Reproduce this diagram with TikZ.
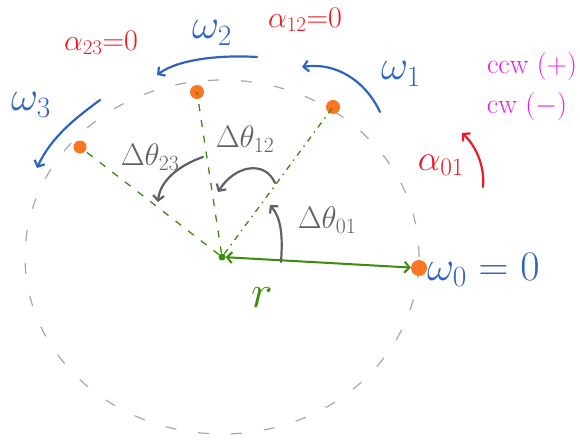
\documentclass[tikz,border=0pt]{standalone}
\usepackage{fix-cm}
\usetikzlibrary{arrows.meta}
\definecolor{dotor}{HTML}{FA7620}
\definecolor{gr}{HTML}{3A8C0A}
\definecolor{bl}{HTML}{2F63C2}
\definecolor{rd}{HTML}{EC1C24}
\definecolor{mg}{HTML}{F018E8}
\definecolor{gy}{HTML}{606060}
\definecolor{cg}{HTML}{A8A8A8}
\begin{document}
\begin{tikzpicture}[x=1pt,y=-1pt,
  dot/.style={circle,fill=dotor,minimum size=16pt,inner sep=0pt},
  cdot/.style={circle,fill=gr,minimum size=7pt,inner sep=0pt},
  hand/.style={line width=2.2pt,line cap=round,line join=round},
  barb/.style={-{Straight Barb[length=5pt,width=11pt]}},
  radial/.style={gr,line width=1.3pt,dash pattern=on 7pt off 9pt},
  wlbl/.style={bl,inner sep=0pt,font=\fontsize{42}{48}\selectfont},
  albl/.style={rd,inner sep=0pt,font=\fontsize{30}{36}\selectfont},
  tlbl/.style={gy,inner sep=0pt,font=\fontsize{31}{36}\selectfont},
  mlbl/.style={mg,inner sep=0pt,font=\fontsize{28}{33}\selectfont}
]
\useasboundingbox (0,0) rectangle (580,444);
% dashed circle
\draw[cg,line width=1.2pt,dash pattern=on 11pt off 22pt] (222,257) ellipse [x radius=197pt,y radius=177pt];
% points
\node[cdot] (c) at (222,257) {};
\node[dot] (p0) at (419,268) {};
\node[dot,minimum size=14pt] (p1) at (333,107) {};
\node[dot,minimum size=14pt] (p2) at (197,92) {};
\node[dot,minimum size=13pt] (p3) at (80,147) {};
% radial lines
\draw[gr,line width=1.3pt,dash pattern=on 6pt off 5pt on 1.5pt off 5pt] (c) -- (p1.center);
\draw[radial] (c) -- (p2.center);
\draw[radial] (c) -- (p3.center);
% r arrow
\draw[gr,line width=2pt,line cap=round,{Straight Barb[length=5pt,width=11pt]}-{Straight Barb[length=5pt,width=11pt]}] (c) -- (p0);
\node[gr,inner sep=0pt,font=\fontsize{46}{52}\selectfont] (rl) at (262,298) {$r$};
% angle arrows
\coordinate (a01s) at (281,262);
\coordinate (a01e) at (270,205);
\draw[gy,hand,barb] (a01s) .. controls (283,235) and (281,218) .. (a01e);
\coordinate (a12s) at (275,183);
\coordinate (a12e) at (218,192);
\draw[gy,hand,barb] (a12s) .. controls (265,160) and (235,165) .. (a12e);
\coordinate (a23s) at (203,157);
\coordinate (a23e) at (158,202);
\draw[gy,hand,barb] (a23s) .. controls (180,165) and (160,180) .. (a23e);
\node[tlbl] (t01) at (327,220) {$\Delta\theta_{01}$};
\node[tlbl] (t12) at (245,139) {$\Delta\theta_{12}$};
\node[tlbl] (t23) at (150,157) {$\Delta\theta_{23}$};
% omega arrows
\coordinate (w1s) at (380,112);
\coordinate (w1e) at (302,67);
\draw[bl,hand,barb] (w1s) .. controls (365,80) and (335,62) .. (w1e);
\coordinate (w2s) at (257,57);
\coordinate (w2e) at (157,75);
\draw[bl,hand,barb] (w2s) .. controls (225,55) and (180,58) .. (w2e);
\coordinate (w3s) at (100,100);
\coordinate (w3e) at (37,168);
\draw[bl,hand,barb] (w3s) .. controls (80,115) and (52,135) .. (w3e);
\node[wlbl] (w1) at (401,74) {$\omega_1$};
\node[wlbl] (w2) at (212,33) {$\omega_2$};
\node[wlbl] (w3) at (31,105) {$\omega_3$};
\node[wlbl,anchor=west] (w0) at (427,270) {$\omega_0 = 0$};
% alpha
\node[albl] (a23) at (101,43) {$\alpha_{23}{=}0$};
\node[albl] (a12) at (305,20) {$\alpha_{12}{=}0$};
\node[albl,font=\fontsize{36}{42}\selectfont] (a01) at (441,165) {$\alpha_{01}$};
\coordinate (ras) at (483,187);
\coordinate (rae) at (462,133);
\draw[rd,hand,barb] (ras) .. controls (485,165) and (475,145) .. (rae);
% sign convention
\node[mlbl] (ccw) at (532,67) {ccw (+)};
\node[mlbl] (cw) at (527,107) {cw ($-$)};
\end{tikzpicture}
\end{document}
